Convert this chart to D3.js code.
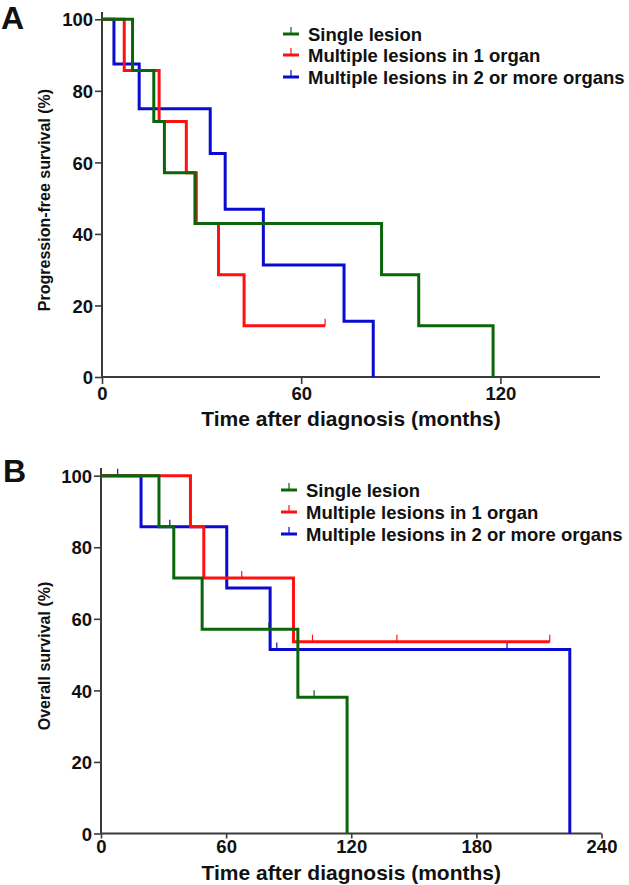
<!DOCTYPE html>
<html><head><meta charset="utf-8">
<script src="https://cdn.jsdelivr.net/npm/d3@7"></script>
<style>body{margin:0;background:#fff}svg{display:block}text{font-family:"Liberation Sans",Arial,sans-serif;font-weight:bold;fill:#111}</style>
</head><body>
<script>
// ---- Data ----
const seriesNames = ["Single lesion", "Multiple lesions in 1 organ", "Multiple lesions in 2 or more organs"];
const seriesColors = ["#0b660b", "#ff1010", "#0a0ad0"];

// Panel A: progression-free survival
const pfsSingleTimes = [0, 9.2, 15.6, 18.8, 28.0, 84.2, 95.4, 117.8];
const pfsSingleSurv  = [100, 85.7, 71.4, 57.1, 42.9, 28.6, 14.3, 0];
const pfsSingleCens  = [];
const pfsOneTimes = [0, 6.7, 17.2, 25.4, 28.4, 35.1, 42.8, 67.2];
const pfsOneSurv  = [100, 85.7, 71.4, 57.1, 42.9, 28.6, 14.3, 14.3];
const pfsOneCens  = [67.2];
const pfsTwoTimes = [0, 3.6, 11.2, 32.6, 37.1, 48.6, 72.9, 81.7];
const pfsTwoSurv  = [100, 87.5, 75.0, 62.5, 46.9, 31.3, 15.6, 0];
const pfsTwoCens  = [];
const pfsXTicks = [0, 60, 120];

// Panel B: overall survival
const osSingleTimes = [0, 27.8, 34.9, 48.5, 94.4, 118.0];
const osSingleSurv  = [100, 85.7, 71.4, 57.1, 38.1, 0];
const osSingleCens  = [80.5, 102.2];
const osOneTimes = [0, 42.9, 49.3, 92.3, 215.2];
const osOneSurv  = [100, 85.7, 71.4, 53.6, 53.6];
const osOneCens  = [67.5, 101.4, 141.9, 215.2];
const osTwoTimes = [0, 19.2, 60.3, 81.1, 224.8];
const osTwoSurv  = [100, 85.7, 68.6, 51.4, 0];
const osTwoCens  = [8.0, 33.0, 84.3, 194.7];
const osXTicks = [0, 60, 120, 180, 240];

const yTicks = [0, 20, 40, 60, 80, 100];

// ---- Drawing ----
const W = 629, H = 885;
const svg = d3.select("body").append("svg").attr("width", W).attr("height", H);

function panel(cfg) {
  const g = svg.append("g");
  const x = d3.scaleLinear().domain(cfg.xDomain).range(cfg.xRange);
  const y = d3.scaleLinear().domain([0, 100]).range(cfg.yRange);
  const axisColor = "#3a3a3a";

  const xAxis = g.append("g").attr("transform", `translate(0,${cfg.yRange[0]})`)
    .call(d3.axisBottom(x).tickValues(cfg.xTicks).tickSize(cfg.xTickSize).tickSizeOuter(0).tickPadding(cfg.xTickPad));
  const yAxis = g.append("g").attr("transform", `translate(${cfg.xRange[0]},0)`)
    .call(d3.axisLeft(y).tickValues(yTicks).tickSize(7).tickSizeOuter(0).tickPadding(2));
  [xAxis, yAxis].forEach(a => {
    a.select(".domain").attr("stroke", axisColor).attr("stroke-width", 2);
    a.selectAll(".tick line").attr("stroke", axisColor).attr("stroke-width", 1.6);
    a.selectAll("text").attr("font-size", 18.5).attr("fill", "#111")
      .attr("font-family", '"Liberation Sans",Arial,sans-serif').attr("font-weight", "bold");
  });
  yAxis.selectAll("text").attr("dy", "0.36em");
  xAxis.selectAll("text").attr("dy", "0.71em");
  yAxis.select(".domain").attr("d", `M0,${cfg.yRange[0]}V${cfg.yTop}`);
  xAxis.select(".domain").attr("d", `M${cfg.xRange[0]},0H${cfg.xRange[1]}`);

  const order = [2, 1, 0];
  const line = d3.line().x(d => x(d[0])).y(d => y(d[1])).curve(d3.curveStepAfter);
  order.forEach(i => {
    const s = cfg.series[i];
    const pts = s.t.map((t, k) => [t, s.s[k]]);
    g.append("path").attr("d", line(pts)).attr("fill", "none")
      .attr("stroke", seriesColors[i]).attr("stroke-width", 3).attr("stroke-linejoin", "miter");
    s.c.forEach(ct => {
      let k = 0;
      for (let j = 0; j < s.t.length; j++) if (s.t[j] <= ct) k = j;
      const sv = s.s[k];
      g.append("line").attr("x1", x(ct)).attr("x2", x(ct))
        .attr("y1", y(sv)).attr("y2", y(sv) - 7)
        .attr("stroke", seriesColors[i]).attr("stroke-width", 1.2);
    });
  });

  cfg.legendY.forEach((ly, i) => {
    const lx = cfg.legendX;
    g.append("line").attr("x1", lx).attr("x2", lx + 16).attr("y1", ly).attr("y2", ly)
      .attr("stroke", seriesColors[i]).attr("stroke-width", 3);
    g.append("line").attr("x1", lx + 8).attr("x2", lx + 8).attr("y1", ly).attr("y2", ly - 7)
      .attr("stroke", seriesColors[i]).attr("stroke-width", 1.2);
    g.append("text").attr("x", lx + 25).attr("y", ly).attr("dy", "0.36em")
      .attr("font-size", 18.5).text(seriesNames[i]);
  });

  g.append("text").attr("x", (cfg.xRange[0] + cfg.xRange[1]) / 2).attr("y", cfg.xTitleY)
    .attr("text-anchor", "middle").attr("font-size", 21).text("Time after diagnosis (months)");
  g.append("text").attr("transform", `translate(${cfg.yTitleX},${cfg.yTitleCY}) rotate(-90)`)
    .attr("text-anchor", "middle").attr("font-size", 16).text(cfg.yTitle);
  g.append("text").attr("x", cfg.letterX).attr("y", cfg.letterY).attr("font-size", 32).text(cfg.letter);
}

panel({
  letter: "A", letterX: 1, letterY: 29,
  xDomain: [0, 150], xRange: [102, 600], yRange: [377, 19.3], yTop: 12,
  xTicks: pfsXTicks, xTickSize: 7, xTickPad: 3,
  series: [
    {t: pfsSingleTimes, s: pfsSingleSurv, c: pfsSingleCens},
    {t: pfsOneTimes, s: pfsOneSurv, c: pfsOneCens},
    {t: pfsTwoTimes, s: pfsTwoSurv, c: pfsTwoCens}
  ],
  legendX: 283, legendY: [34, 55, 77],
  xTitleY: 426, yTitleX: 50, yTitleCY: 200,
  yTitle: "Progression-free survival (%)"
});

panel({
  letter: "B", letterX: 3, letterY: 482,
  xDomain: [0, 240], xRange: [101, 601.5], yRange: [833.5, 475.7], yTop: 468,
  xTicks: osXTicks, xTickSize: 5, xTickPad: 1,
  series: [
    {t: osSingleTimes, s: osSingleSurv, c: osSingleCens},
    {t: osOneTimes, s: osOneSurv, c: osOneCens},
    {t: osTwoTimes, s: osTwoSurv, c: osTwoCens}
  ],
  legendX: 281, legendY: [490, 512, 534],
  xTitleY: 880, yTitleX: 50, yTitleCY: 656,
  yTitle: "Overall survival (%)"
});
</script>
</body></html>
